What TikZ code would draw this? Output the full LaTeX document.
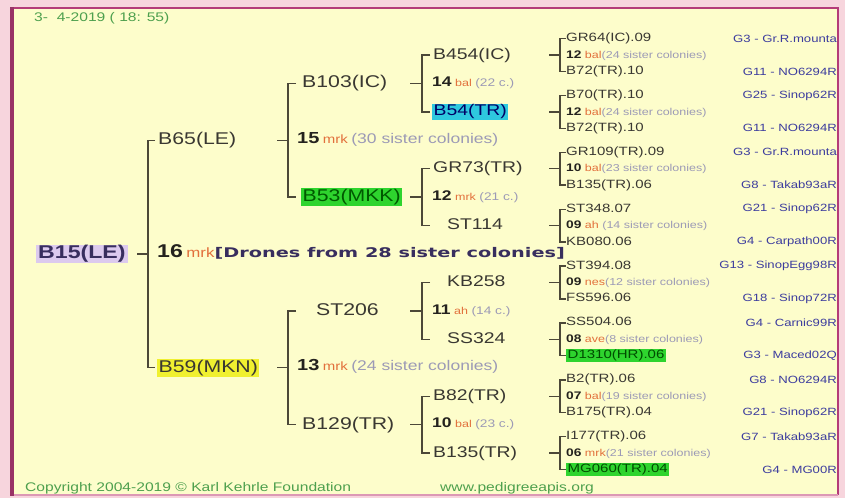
\documentclass[tikz,border=0pt]{standalone}
\usepackage{fontspec}
\setmainfont[FakeStretch=1.25]{Liberation Sans}
\newfontfamily\dronefont[FakeStretch=1.45]{DejaVu Sans}
\usetikzlibrary{calc}
\definecolor{bgyellow}{HTML}{FDFDCB}
\definecolor{bgpink}{HTML}{F7D5DD}
\definecolor{framec}{HTML}{B43C78}
\definecolor{lnc}{HTML}{4C4838}
\definecolor{txt}{HTML}{3A3832}
\definecolor{abbr}{HTML}{E2703C}
\definecolor{parc}{HTML}{9C9AB6}
\definecolor{gtxt}{HTML}{3C3C9E}
\definecolor{datec}{HTML}{4EA04E}
\definecolor{numc}{HTML}{24221E}
\definecolor{dronec}{HTML}{382E5E}
\definecolor{hlgreen}{HTML}{2ED42E}
\definecolor{hlcyan}{HTML}{2EC8DE}
\definecolor{hlyellow}{HTML}{F0F030}
\definecolor{hlpurple}{HTML}{DCCAEE}
\newcommand\cnum[2]{{\fontsize{#1}{#1}\selectfont\bfseries\color{numc}#2}}
\newcommand\cab[2]{{\fontsize{#1}{#1}\selectfont\color{abbr}#2}}
\newcommand\cpar[2]{{\fontsize{#1}{#1}\selectfont\color{parc}#2}}
\tikzset{
  ln/.style={draw=lnc, line width=1.4pt},
  lbl/.style={anchor=west, inner sep=0pt, text=txt, font=\fontsize{17}{17}\selectfont, text height=12.2pt, text depth=3.4pt},
  lblf/.style={lbl, font=\fontsize{15.5}{16}\selectfont, text height=11.2pt, text depth=3.1pt},
  leaf/.style={anchor=west, inner sep=0pt, text=txt, font=\fontsize{12}{12}\selectfont, text height=8.6pt, text depth=2.5pt},
  gname/.style={anchor=east, inner sep=0pt, text=gtxt, font=\fontsize{10.5}{11}\selectfont},
  midt/.style={anchor=west, inner sep=0pt, text height=9pt, text depth=2.5pt},
  plain/.style={},
  greenhl/.style={fill=hlgreen, inner xsep=1.5pt, inner ysep=1pt, text=black!70!green},
  foot/.style={anchor=west, inner sep=0pt, text=datec, font=\fontsize{12.5}{12.5}\selectfont},
}
\begin{document}
\begin{tikzpicture}[x=1pt,y=-1pt]
\useasboundingbox (0,0) rectangle (845,498);
\fill[bgpink] (0,0) rectangle (845,498);
\fill[bgyellow] (12,8) rectangle (838,495);
\draw[framec, line width=2.2pt] (12,8) -- (838,8) -- (838,495);
\draw[framec!40!bgpink, line width=2pt] (12,495) -- (838,495);
\draw[framec!85!black, line width=4pt] (12,7) -- (12,496);

\coordinate (bx1) at (148,0); \coordinate (dx1) at (137,0);
\coordinate (bx2) at (288,0); \coordinate (dx2) at (277,0);
\coordinate (bx3) at (422,0); \coordinate (dx3) at (410,0);
\coordinate (bx4) at (560,0); \coordinate (dx4) at (549,0);

\node[foot] (date) at (34,18) {3-\ \ 4-2019 ( 18: 55)};

% level 1
\node[lbl, fill=hlpurple, inner xsep=2pt, inner ysep=1.5pt, font=\fontsize{18.5}{18.5}\selectfont\bfseries, text=dronec] (b15) at (36,254) {B15(LE)};
\node[lbl] (b65) at (158,140.3) {B65(LE)};
\node[lbl, fill=hlyellow, inner xsep=1.5pt, inner ysep=1pt] (b59) at (157,367.7) {B59(MKN)};
\node[midt] (m1) at (157,254) {\cnum{18.5}{16} \cab{13.5}{mrk}{\dronefont\bfseries\fontsize{13.3}{13.5}\selectfont\color{dronec}[Drones from 28 sister colonies]}};

% level 2
\node[lbl] (b103) at (302,83.45) {B103(IC)};
\node[lbl, fill=hlgreen, inner xsep=1.5pt, inner ysep=1pt, text=black!65!green] (b53) at (301,197.15) {B53(MKK)};
\node[midt] (m2) at (297,140.3) {\cnum{16}{15} \cab{12}{mrk} \cpar{14}{(30 sister colonies)}};
\node[lbl] (st206) at (316,310.85) {ST206};
\node[lbl] (b129) at (302,424.6) {B129(TR)};
\node[midt] (m3) at (297,367.7) {\cnum{16}{13} \cab{12}{mrk} \cpar{14}{(24 sister colonies)}};

% level 3
\node[lblf] (n1) at (433,55.0) {B454(IC)};
\node[lblf, fill=hlcyan, inner xsep=1.5pt, inner ysep=1pt, text=blue!40!black] (n2) at (432,111.9) {B54(TR)};
\node[midt] (m4) at (432,83.45) {\cnum{14}{14} \cab{10}{bal} \cpar{11}{(22 c.)}};
\node[lblf] (n3) at (433,168.7) {GR73(TR)};
\node[lblf] (n4) at (447,225.6) {ST114};
\node[midt] (m5) at (432,197.15) {\cnum{14}{12} \cab{10}{mrk} \cpar{11}{(21 c.)}};
\node[lblf] (n5) at (447,282.4) {KB258};
\node[lblf] (n6) at (447,339.3) {SS324};
\node[midt] (m6) at (432,310.85) {\cnum{14}{11} \cab{10}{ah} \cpar{11}{(14 c.)}};
\node[lblf] (n7) at (433,396.2) {B82(TR)};
\node[lblf] (n8) at (433,453.0) {B135(TR)};
\node[midt] (m7) at (432,424.6) {\cnum{14}{10} \cab{10}{bal} \cpar{11}{(23 c.)}};

% connectors level 1
\draw[ln] (b15.east -| dx1) -- (b15.east -| bx1);
\draw[ln] ($(bx1 |- b65.west)+(7,0)$) -- (bx1 |- b65.west) -- (bx1 |- b59.west) -- ++(7,0);
% level 2
\draw[ln] (b65.east -| dx2) -- (b65.east -| bx2);
\draw[ln] ($(bx2 |- b103.west)+(8,0)$) -- (bx2 |- b103.west) -- (bx2 |- b53.west) -- ++(8,0);
\draw[ln] (b59.east -| dx2) -- (b59.east -| bx2);
\draw[ln] ($(bx2 |- st206.west)+(8,0)$) -- (bx2 |- st206.west) -- (bx2 |- b129.west) -- ++(8,0);
% level 3
\draw[ln] (b103.east -| dx3) -- (b103.east -| bx3);
\draw[ln] ($(bx3 |- n1.west)+(8,0)$) -- (bx3 |- n1.west) -- (bx3 |- n2.west) -- ++(8,0);
\draw[ln] (b53.east -| dx3) -- (b53.east -| bx3);
\draw[ln] ($(bx3 |- n3.west)+(8,0)$) -- (bx3 |- n3.west) -- (bx3 |- n4.west) -- ++(8,0);
\draw[ln] (st206.east -| dx3) -- (st206.east -| bx3);
\draw[ln] ($(bx3 |- n5.west)+(8,0)$) -- (bx3 |- n5.west) -- (bx3 |- n6.west) -- ++(8,0);
\draw[ln] (b129.east -| dx3) -- (b129.east -| bx3);
\draw[ln] ($(bx3 |- n7.west)+(8,0)$) -- (bx3 |- n7.west) -- (bx3 |- n8.west) -- ++(8,0);

% level 4 (right column)
\begin{scope}
\clip (12,8) rectangle (836,494);
\foreach \k/\c/\ta/\tg/\md/\ba/\bg/\bs in {
 1/55.0/GR64(IC).09/G3 - Gr.R.mounta/{\cnum{11}{12} \cab{10}{bal}\cpar{10}{(24 sister colonies)}}/B72(TR).10/G11 - NO6294R/plain,
 2/111.9/B70(TR).10/G25 - Sinop62R/{\cnum{11}{12} \cab{10}{bal}\cpar{10}{(24 sister colonies)}}/B72(TR).10/G11 - NO6294R/plain,
 3/168.7/GR109(TR).09/G3 - Gr.R.mounta/{\cnum{11}{10} \cab{10}{bal}\cpar{10}{(23 sister colonies)}}/B135(TR).06/G8 - Takab93aR/plain,
 4/225.6/ST348.07/G21 - Sinop62R/{\cnum{11}{09} \cab{10}{ah} \cpar{10}{(14 sister colonies)}}/KB080.06/G4 - Carpath00R/plain,
 5/282.4/ST394.08/G13 - SinopEgg98R/{\cnum{11}{09} \cab{10}{nes}\cpar{10}{(12 sister colonies)}}/FS596.06/G18 - Sinop72R/plain,
 6/339.3/SS504.06/G4 - Carnic99R/{\cnum{11}{08} \cab{10}{ave}\cpar{10}{(8 sister colonies)}}/D1310(HR).06/G3 - Maced02Q/greenhl,
 7/396.2/B2(TR).06/G8 - NO6294R/{\cnum{11}{07} \cab{10}{bal}\cpar{10}{(19 sister colonies)}}/B175(TR).04/G21 - Sinop62R/plain,
 8/453.0/I177(TR).06/G7 - Takab93aR/{\cnum{11}{06} \cab{10}{mrk}\cpar{10}{(21 sister colonies)}}/MG060(TR).04/G4 - MG00R/greenhl}{
  \node[leaf] (rt\k) at (566,\c-16.4) {\ta};
  \node[midt] (rm\k) at (566,\c) {\md};
  \node[leaf,\bs] (rb\k) at (566,\c+16.4) {\ba};
  \node[gname] (gt\k) at (837,\c-16.4) {\tg};
  \node[gname] (gb\k) at (837,\c+16.4) {\bg};
  \draw[ln] (n\k.east -| dx4) -- (n\k.east -| bx4);
  \draw[ln] (rt\k.west) -| (bx4 |- rb\k.west) -- (rb\k.west);
}
\end{scope}

\node[foot] (copy) at (25,488) {Copyright 2004-2019 © Karl Kehrle Foundation};
\node[foot] (www) at (440,488) {www.pedigreeapis.org};
\end{tikzpicture}
\end{document}
